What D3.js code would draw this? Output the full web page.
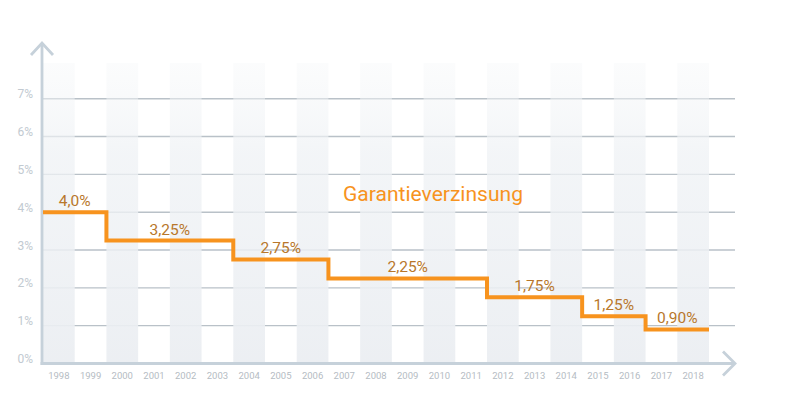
<!DOCTYPE html>
<html>
<head>
<meta charset="utf-8">
<script src="https://cdn.jsdelivr.net/npm/d3@7/dist/d3.min.js"></script>
<style>
  html, body { margin: 0; padding: 0; background: #ffffff; }
  svg { display: block; }
</style>
</head>
<body>
<svg id="chart" width="800" height="400"></svg>
<script>
const years = ["1998","1999","2000","2001","2002","2003","2004","2005","2006","2007","2008","2009","2010","2011","2012","2013","2014","2015","2016","2017","2018"];
const rates = [4.0, 4.0, 3.25, 3.25, 3.25, 3.25, 2.75, 2.75, 2.75, 2.25, 2.25, 2.25, 2.25, 2.25, 1.75, 1.75, 1.75, 1.25, 1.25, 0.90, 0.90];
const segmentLabels = ["4,0%", "3,25%", "2,75%", "2,25%", "1,75%", "1,25%", "0,90%"];
const yTicks = [0, 1, 2, 3, 4, 5, 6, 7];
const yTickLabels = ["0%", "1%", "2%", "3%", "4%", "5%", "6%", "7%"];
const title = "Garantieverzinsung";

const svg = d3.select("#chart");
const x = d3.scaleBand().domain(years).range([43, 709]).padding(0);
const y = d3.scaleLinear().domain([0, 7]).range([363.5, 98.7]);
const axisX0 = 42, axisXEnd = 735, bandTop = 63;

// gradient for column shading
const defs = svg.append("defs");
const grad = defs.append("linearGradient").attr("id", "bandGrad")
  .attr("x1", 0).attr("y1", 0).attr("x2", 0).attr("y2", 1);
grad.append("stop").attr("offset", "0%").attr("stop-color", "#f4f6f8").attr("stop-opacity", 0.35);
grad.append("stop").attr("offset", "30%").attr("stop-color", "#eff2f5").attr("stop-opacity", 0.75);
grad.append("stop").attr("offset", "100%").attr("stop-color", "#ebeef2").attr("stop-opacity", 0.95);

// gridlines
svg.append("g").selectAll("line").data(yTicks.filter(d => d > 0)).join("line")
  .attr("x1", axisX0).attr("x2", axisXEnd)
  .attr("y1", d => y(d)).attr("y2", d => y(d))
  .attr("stroke", "#b9c1c8").attr("stroke-width", 1.4);

// shaded columns
svg.append("g").selectAll("rect").data(years.filter((d, i) => i % 2 === 0)).join("rect")
  .attr("x", d => x(d)).attr("width", x.bandwidth())
  .attr("y", bandTop).attr("height", y(0) - bandTop)
  .attr("fill", "url(#bandGrad)");

// axes
const axisColor = "#c6d1da";
svg.append("line").attr("x1", axisX0).attr("x2", axisX0).attr("y1", y(0) + 1.5).attr("y2", 43)
  .attr("stroke", axisColor).attr("stroke-width", 2.8);
svg.append("line").attr("x1", axisX0 - 1.4).attr("x2", axisXEnd).attr("y1", y(0)).attr("y2", y(0))
  .attr("stroke", axisColor).attr("stroke-width", 2.8);
svg.append("path").attr("d", `M31,55 L${axisX0},43 L53,55`)
  .attr("fill", "none").attr("stroke", axisColor).attr("stroke-width", 2.8);
svg.append("path").attr("d", `M723,${y(0) - 12} L${axisXEnd},${y(0)} L723,${y(0) + 12}`)
  .attr("fill", "none").attr("stroke", axisColor).attr("stroke-width", 2.8);

// y tick labels
svg.append("g").selectAll("text").data(yTicks).join("text")
  .attr("x", 33).attr("y", d => y(d) - 0.5)
  .attr("text-anchor", "end")
  .attr("font-family", "Roboto, sans-serif").attr("font-size", 12)
  .attr("fill", "#c2cad1")
  .text((d, i) => yTickLabels[i]);

// x tick labels
svg.append("g").selectAll("text").data(years).join("text")
  .attr("x", d => x(d) + x.bandwidth() / 2).attr("y", 379)
  .attr("text-anchor", "middle")
  .attr("font-family", "Roboto, sans-serif").attr("font-size", 9.5)
  .attr("fill", "#b5bcc3")
  .text(d => d);

// step line
const pts = years.map((yr, i) => [x(yr), rates[i]]);
pts.push([x(years[years.length - 1]) + x.bandwidth(), rates[rates.length - 1]]);
const line = d3.line().x(d => d[0]).y(d => y(d[1])).curve(d3.curveStepAfter);
svg.append("path").datum(pts).attr("d", line)
  .attr("fill", "none").attr("stroke", "#f7931e").attr("stroke-width", 4)
  .attr("stroke-linejoin", "miter");

// segment labels (centered over each constant run)
const segs = [];
rates.forEach((r, i) => {
  if (i === 0 || r !== rates[i - 1]) segs.push({ start: i, end: i, rate: r });
  else segs[segs.length - 1].end = i;
});
svg.append("g").selectAll("text").data(segs).join("text")
  .attr("x", d => (x(years[d.start]) + x(years[d.end]) + x.bandwidth()) / 2)
  .attr("y", d => y(d.rate) - 6)
  .attr("text-anchor", "middle")
  .attr("font-family", "Roboto, sans-serif").attr("font-size", 15.5)
  .attr("fill", "#b8772b")
  .text((d, i) => segmentLabels[i]);

// title
svg.append("text").attr("x", 433).attr("y", 201)
  .attr("text-anchor", "middle")
  .attr("font-family", "Roboto, sans-serif").attr("font-size", 21)
  .attr("textLength", 180).attr("lengthAdjust", "spacingAndGlyphs")
  .attr("fill", "#f7931e")
  .text(title);
</script>
</body>
</html>
